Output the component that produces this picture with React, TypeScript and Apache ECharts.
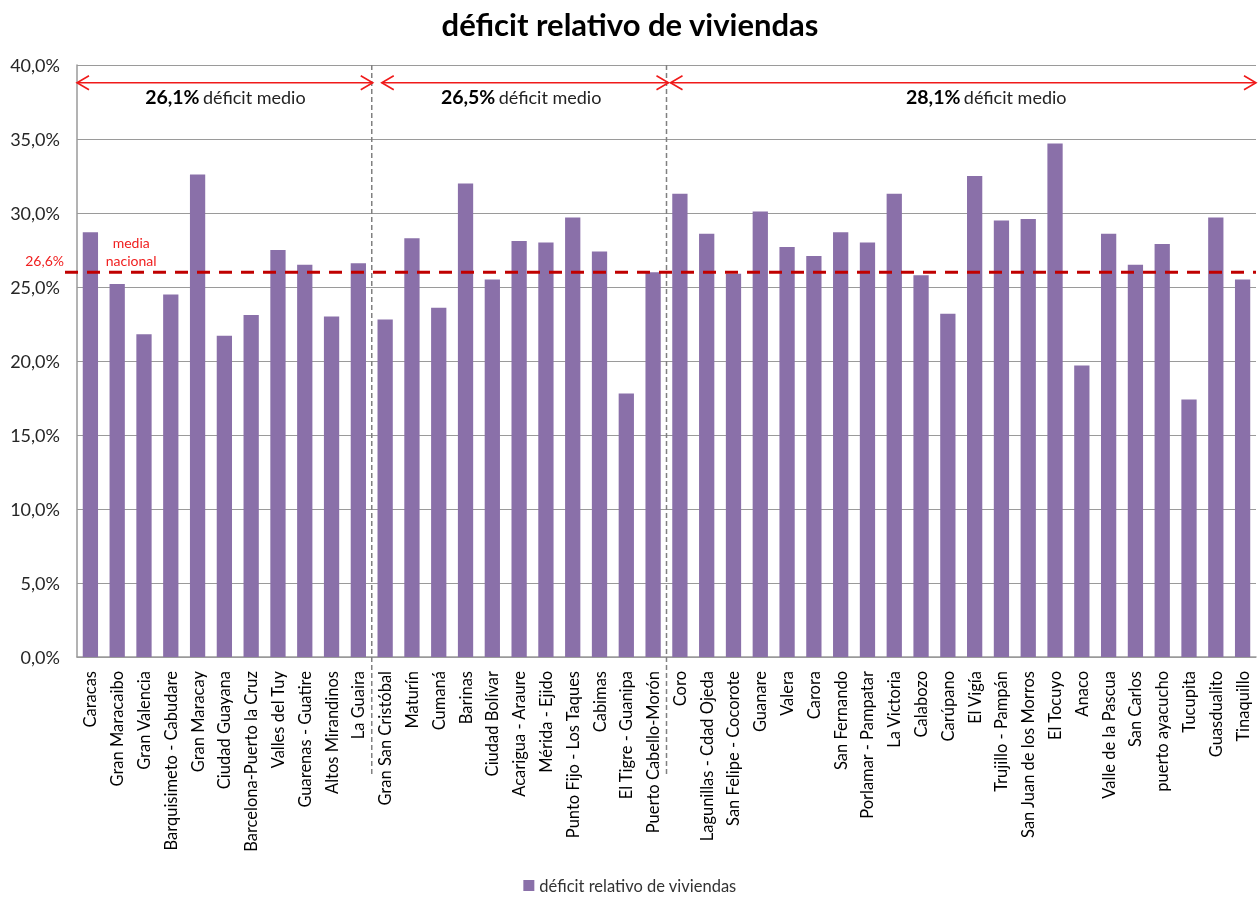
import React, { useEffect, useRef } from "react";
import * as echarts from "echarts";

const categories = [
  "Caracas", "Gran Maracaibo", "Gran Valencia", "Barquisimeto - Cabudare", "Gran Maracay",
  "Ciudad Guayana", "Barcelona-Puerto la Cruz", "Valles del Tuy", "Guarenas - Guatire",
  "Altos Mirandinos", "La Guaira",
  "Gran San Cristóbal", "Maturín", "Cumaná", "Barinas", "Ciudad Bolívar", "Acarigua - Araure",
  "Mérida - Ejido", "Punto Fijo - Los Taques", "Cabimas", "El Tigre - Guanipa", "Puerto Cabello-Morón",
  "Coro", "Lagunillas - Cdad Ojeda", "San Felipe - Cocorote", "Guanare", "Valera", "Carora",
  "San Fernando", "Porlamar - Pampatar", "La Victoria", "Calabozo", "Carúpano", "El Vigía",
  "Trujillo - Pampán", "San Juan de los Morros", "El Tocuyo", "Anaco", "Valle de la Pascua",
  "San Carlos", "puerto ayacucho", "Tucupita", "Guasdualito", "Tinaquillo",
];

const deficit = [
  28.7, 25.2, 21.8, 24.5, 32.6, 21.7, 23.1, 27.5, 26.5, 23.0, 26.6,
  22.8, 28.3, 23.6, 32.0, 25.5, 28.1, 28.0, 29.7, 27.4, 17.8, 26.0,
  31.3, 28.6, 25.9, 30.1, 27.7, 27.1, 28.7, 28.0, 31.3, 25.8, 23.2, 32.5,
  29.5, 29.6, 34.7, 19.7, 28.6, 26.5, 27.9, 17.4, 29.7, 25.5,
];

const yTicks = { min: 0, max: 40, interval: 5 };
const nationalMean = 26.0;
const nationalMeanLabel = "26,6%";
const groupEnds = [10, 21, 43];
const groupMeans = ["26,1%", "26,5%", "28,1%"];
const seriesName = "déficit relativo de viviendas";
const titleText = "déficit relativo de viviendas";
const FONT = "Lato, 'Open Sans', sans-serif";

export default function App() {
  const ref = useRef<HTMLDivElement>(null);

  useEffect(() => {
    if (!ref.current) return;
    const chart = echarts.init(ref.current, null, { renderer: "svg" });
    const option: any = {
      animation: false,
      textStyle: { fontFamily: FONT },
      title: {
        text: titleText,
        left: "center",
        top: 3,
        textStyle: { fontSize: 31, fontWeight: "bold", color: "#000", fontFamily: FONT },
      },
      legend: {
        data: [seriesName],
        top: 872,
        left: "center",
        icon: "rect",
        itemWidth: 11,
        itemHeight: 11,
        itemGap: 6,
        textStyle: { fontSize: 16.5, color: "#333", fontFamily: FONT },
      },
      grid: { left: 77, right: 4, top: 65, bottom: 240, containLabel: false },
      xAxis: {
        type: "category",
        data: categories,
        axisTick: { show: false },
        axisLine: { lineStyle: { color: "#9a9a9a", width: 1.5 } },
        axisLabel: {
          interval: 0,
          rotate: 90,
          margin: 14,
          fontSize: 16.5,
          color: "#000",
          fontFamily: FONT,
        },
      },
      yAxis: {
        type: "value",
        min: yTicks.min,
        max: yTicks.max,
        interval: yTicks.interval,
        axisLine: { show: true, lineStyle: { color: "#9a9a9a", width: 1.5 } },
        axisTick: { show: false },
        splitLine: { lineStyle: { color: "#9a9a9a", width: 1.2 } },
        axisLabel: {
          margin: 17,
          fontSize: 18,
          color: "#262626",
          fontFamily: FONT,
          formatter: (v: number) => v.toFixed(1).replace(".", ",") + "%",
        },
      },
      series: [
        {
          name: seriesName,
          type: "bar",
          data: deficit,
          barCategoryGap: "43%",
          itemStyle: { color: "#8A70A9" },
        },
      ],
    };
    chart.setOption(option);

    const px = (i: number) => chart.convertToPixel({ xAxisIndex: 0 }, categories[i]) as number;
    const py = (v: number) => chart.convertToPixel({ yAxisIndex: 0 }, v) as number;
    const band = px(1) - px(0);
    const gridLeft = px(0) - band / 2;
    const b1 = px(groupEnds[0]) + band / 2;
    const b2 = px(groupEnds[1]) + band / 2;
    const gridRight = px(groupEnds[2]) + band / 2;
    const yTop = py(yTicks.max);
    const yZero = py(0);
    const yArrow = py(38.8);
    const yMean = py(nationalMean);

    const red = "#F01A1A";
    const arrow = (x1: number, x2: number, y: number) => [
      { type: "line", z: 100, shape: { x1, y1: y, x2, y2: y }, style: { stroke: red, lineWidth: 1.6 } },
      {
        type: "polyline", z: 100,
        shape: { points: [[x1 + 12, y - 7], [x1, y], [x1 + 12, y + 7]] },
        style: { stroke: red, lineWidth: 1.6, fill: null },
      },
      {
        type: "polyline", z: 100,
        shape: { points: [[x2 - 12, y - 7], [x2, y], [x2 - 12, y + 7]] },
        style: { stroke: red, lineWidth: 1.6, fill: null },
      },
    ];
    const groupText = (cx: number, val: string) => ({
      type: "text",
      z: 100,
      x: cx,
      y: yArrow + 14,
      style: {
        text: `{b|${val}} {n|déficit medio}`,
        align: "center",
        verticalAlign: "middle",
        rich: {
          b: { fontSize: 19.5, fontWeight: "bold", fill: "#000", fontFamily: FONT },
          n: { fontSize: 18, fill: "#222", fontFamily: FONT },
        },
      },
    });
    const sep = (x: number) => ({
      type: "line",
      z: 90,
      shape: { x1: x, y1: yTop, x2: x, y2: yZero + 118 },
      style: { stroke: "#808080", lineWidth: 1.5, lineDash: [5, 3] },
    });

    const graphic: any[] = [
      sep(b1),
      sep(b2),
      ...arrow(gridLeft, b1 + 1, yArrow),
      ...arrow(b1 + 10, b2 + 2, yArrow),
      ...arrow(b2 + 4, gridRight, yArrow),
      groupText((gridLeft + b1) / 2 + 1, groupMeans[0]),
      groupText((b1 + b2) / 2 + 2, groupMeans[1]),
      groupText((b2 + gridRight) / 2 + 25, groupMeans[2]),
      {
        type: "line",
        z: 110,
        shape: { x1: gridLeft - 12, y1: yMean, x2: gridRight, y2: yMean },
        style: { stroke: "#C00000", lineWidth: 3, lineDash: [13, 9] },
      },
      {
        type: "text", z: 110, x: 64, y: yMean - 12,
        style: { text: nationalMeanLabel, align: "right", verticalAlign: "middle", fontSize: 14, fill: "#F02020", fontFamily: FONT },
      },
      {
        type: "text", z: 110, x: px(1) + 14, y: yMean - 30,
        style: { text: "media", align: "center", verticalAlign: "middle", fontSize: 14, fill: "#F02020", fontFamily: FONT },
      },
      {
        type: "text", z: 110, x: px(1) + 14, y: yMean - 12,
        style: { text: "nacional", align: "center", verticalAlign: "middle", fontSize: 14, fill: "#F02020", fontFamily: FONT },
      },
    ];
    chart.setOption({ graphic });

    return () => chart.dispose();
  }, []);

  return (
    <div
      ref={ref}
      style={{ position: "fixed", left: 0, top: 0, width: 1260, height: 897 }}
    />
  );
}
